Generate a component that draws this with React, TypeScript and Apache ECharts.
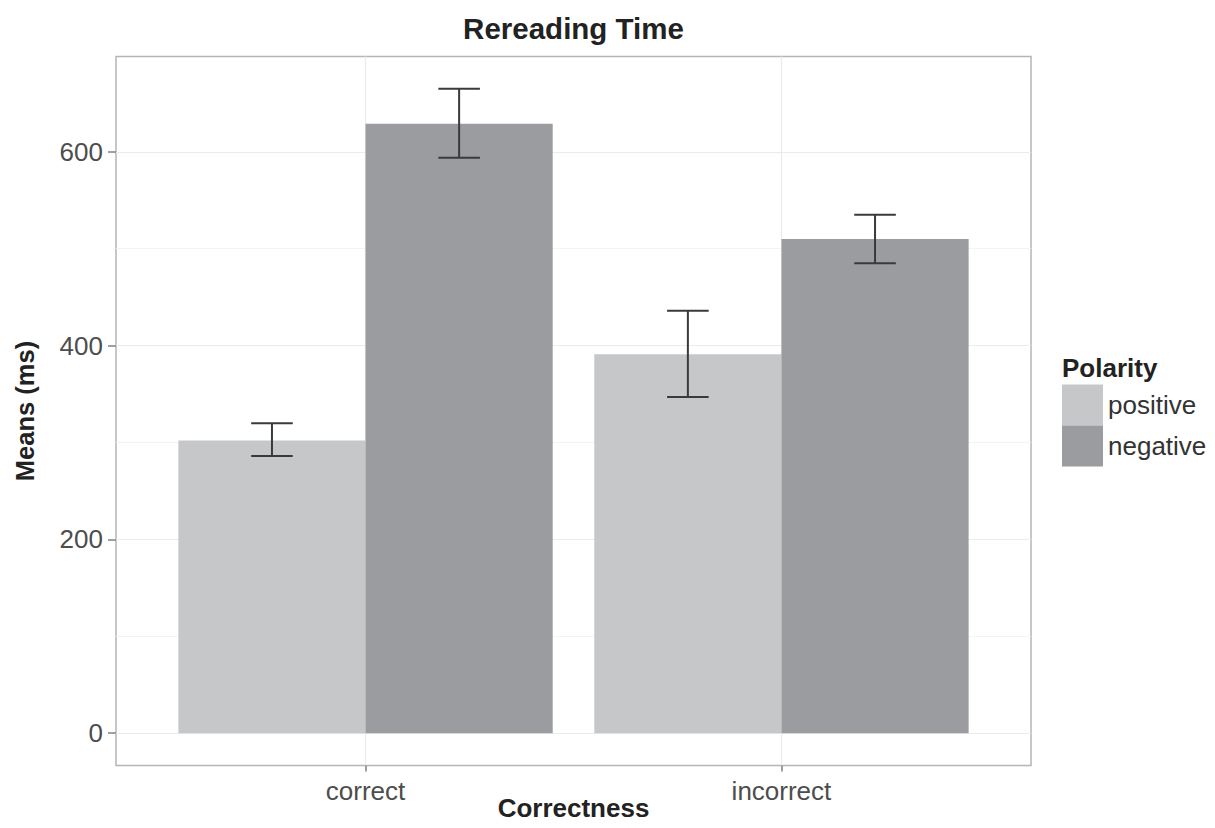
import React, { useEffect, useRef } from "react";
import * as echarts from "echarts";

// ---- data ----
const categories = ["correct", "incorrect"];
const groupNames = ["positive", "negative"];
const positiveMeans = [302, 391];
const positiveLower = [286, 347];
const positiveUpper = [320, 436];
const negativeMeans = [629, 510];
const negativeLower = [594, 485];
const negativeUpper = [665, 535];
const yTickValues = [0, 200, 400, 600];
const yMinorValues = [100, 300, 500];
const chartTitle = "Rereading Time";
const xTitle = "Correctness";
const yTitle = "Means (ms)";
const legendTitle = "Polarity";

const FONT = "'Liberation Sans', Arial, Helvetica, sans-serif";
const COLORS = ["#c6c7c9", "#9b9ca0"];
const ERR_COLOR = "#3a3a3a";
const DODGE = 0.225; // half of 0.45 bar width
const CAP_HALF = 0.05;

function buildData(means: number[], lo: number[], hi: number[]) {
  return categories.map((_, i) => [i + 1, means[i], lo[i], hi[i]]);
}

function makeRender(offset: number, color: string) {
  return (params: any, api: any) => {
    const x = (api.value(0) as number) + offset;
    const mean = api.value(1) as number;
    const lo = api.value(2) as number;
    const hi = api.value(3) as number;
    const topLeft = api.coord([x - DODGE, mean]);
    const botRight = api.coord([x + DODGE, 0]);
    const cx = api.coord([x, 0])[0];
    const capL = api.coord([x - CAP_HALF, 0])[0];
    const capR = api.coord([x + CAP_HALF, 0])[0];
    const yHi = api.coord([x, hi])[1];
    const yLo = api.coord([x, lo])[1];
    const lineStyle = { stroke: ERR_COLOR, lineWidth: 2 };
    return {
      type: "group",
      children: [
        {
          type: "rect",
          shape: {
            x: topLeft[0],
            y: topLeft[1],
            width: botRight[0] - topLeft[0],
            height: botRight[1] - topLeft[1],
          },
          style: { fill: color },
        },
        { type: "line", shape: { x1: cx, y1: yHi, x2: cx, y2: yLo }, style: lineStyle },
        { type: "line", shape: { x1: capL, y1: yHi, x2: capR, y2: yHi }, style: lineStyle },
        { type: "line", shape: { x1: capL, y1: yLo, x2: capR, y2: yLo }, style: lineStyle },
      ],
    };
  };
}

export default function App() {
  const ref = useRef<HTMLDivElement>(null);

  useEffect(() => {
    if (!ref.current) return;
    const chart = echarts.init(ref.current, null, { renderer: "svg" });

    const gridLeft = 116;
    const gridTop = 56.5;
    const gridWidth = 915;
    const gridHeight = 709;
    const panelCenterX = gridLeft + gridWidth / 2;

    const option: any = {
      animation: false,
      textStyle: { fontFamily: FONT },
      grid: {
        left: gridLeft,
        top: gridTop,
        width: gridWidth,
        height: gridHeight,
        show: true,
        borderColor: "#b5b5b5",
        borderWidth: 1.5,
        backgroundColor: "#ffffff",
        containLabel: false,
        outerBoundsMode: "none",
      },
      legend: {
        orient: "vertical",
        left: 1062,
        top: 384.5,
        padding: 0,
        itemWidth: 41,
        itemHeight: 41,
        itemGap: 0,
        icon: "rect",
        selectedMode: false,
        data: groupNames,
        textStyle: { fontSize: 26, color: "#333333", fontFamily: FONT },
      },
      xAxis: {
        type: "value",
        min: 0.4,
        max: 2.6,
        position: "bottom",
        axisLine: { show: false, onZero: false },
        axisTick: {
          show: true,
          customValues: [1, 2],
          length: 6,
          lineStyle: { color: "#808080", width: 1.5 },
        },
        axisLabel: {
          customValues: [1, 2],
          formatter: (v: number) => categories[Math.round(v) - 1] ?? "",
          fontSize: 26,
          color: "#4d4d4d",
          margin: 12,
          fontFamily: FONT,
        },
        splitLine: { show: true, lineStyle: { color: "#ebebeb", width: 1.2 } },
        name: xTitle,
        nameLocation: "middle",
        nameGap: 29,
        nameMoveOverlap: false,
        nameTextStyle: { fontSize: 26, fontWeight: "bold", color: "#222222", fontFamily: FONT },
      },
      yAxis: [
        {
          type: "value",
          min: -33.3,
          max: 698.4,
          axisLine: { show: false, onZero: false },
          axisTick: {
            show: true,
            customValues: yTickValues,
            length: 8,
            lineStyle: { color: "#808080", width: 1.5 },
          },
          axisLabel: {
            customValues: yTickValues,
            fontSize: 26,
            color: "#4d4d4d",
            margin: 13,
            fontFamily: FONT,
          },
          splitLine: { show: true, lineStyle: { color: "#ebebeb", width: 1.2 } },
          name: yTitle,
          nameLocation: "middle",
          nameGap: 78,
          nameRotate: 90,
          nameMoveOverlap: false,
          nameTextStyle: { fontSize: 25.5, fontWeight: "bold", color: "#222222", fontFamily: FONT },
        },
        {
          type: "value",
          min: -33.3,
          max: 698.4,
          position: "left",
          axisLine: { show: false, onZero: false },
          axisTick: { show: false, customValues: yMinorValues },
          axisLabel: { show: false, customValues: yMinorValues },
          splitLine: { show: true, lineStyle: { color: "#f3f3f3", width: 1 } },
        },
      ],
      series: [
        {
          name: groupNames[0],
          type: "custom",
          itemStyle: { color: COLORS[0] },
          renderItem: makeRender(-DODGE, COLORS[0]),
          encode: { x: 0, y: 1 },
          data: buildData(positiveMeans, positiveLower, positiveUpper),
          silent: true,
          z: 3,
        },
        {
          name: groupNames[1],
          type: "custom",
          itemStyle: { color: COLORS[1] },
          renderItem: makeRender(DODGE, COLORS[1]),
          encode: { x: 0, y: 1 },
          data: buildData(negativeMeans, negativeLower, negativeUpper),
          silent: true,
          z: 3,
        },
      ],
      graphic: [
        {
          type: "text",
          x: panelCenterX,
          y: 13,
          style: {
            text: chartTitle,
            align: "center",
            verticalAlign: "top",
            textAlign: "center",
            textVerticalAlign: "top",
            font: `bold 29.5px ${FONT}`,
            fill: "#222222",
          },
        },
        {
          type: "text",
          x: 1062,
          y: 355,
          style: {
            text: legendTitle,
            align: "left",
            verticalAlign: "top",
            textAlign: "left",
            textVerticalAlign: "top",
            font: `bold 26px ${FONT}`,
            fill: "#222222",
          },
        },
      ],
    };

    chart.setOption(option);
    return () => {
      chart.dispose();
    };
  }, []);

  return (
    <div
      ref={ref}
      style={{ position: "absolute", left: 0, top: 0, width: 1215, height: 828, background: "#ffffff" }}
    />
  );
}
